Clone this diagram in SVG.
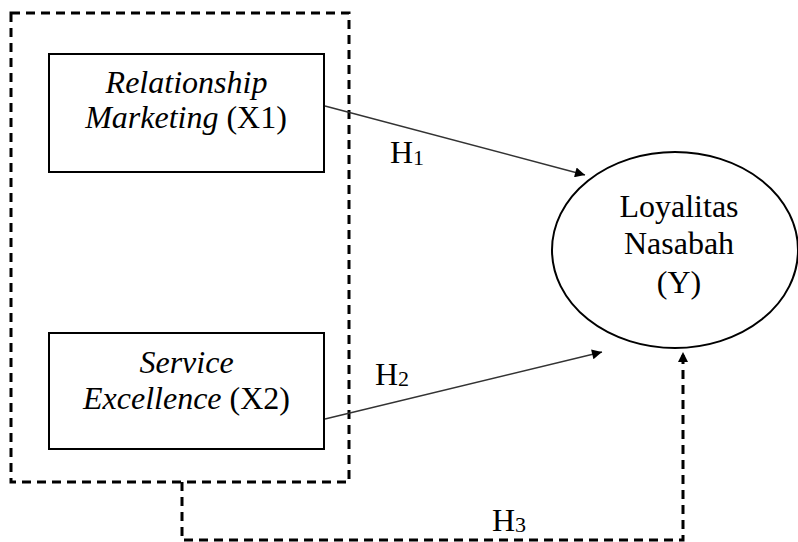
<svg xmlns="http://www.w3.org/2000/svg" width="798" height="542" viewBox="0 0 798 542">
<style>
.t{font-family:"Liberation Serif","Times New Roman",serif;font-size:32px;fill:#000;text-anchor:middle}
.i{font-style:italic}
.h{text-anchor:start}
.sub{font-size:22px}
.box{fill:#fff;stroke:#000;stroke-width:2}
.dash{fill:none;stroke:#000;stroke-width:3;stroke-dasharray:9 6}
.ln{fill:none;stroke:#333;stroke-width:1.5}
</style>
<defs>
<marker id="ah" viewBox="0 0 10 10" refX="10" refY="5" markerWidth="14" markerHeight="10" markerUnits="userSpaceOnUse" orient="auto">
<path d="M0,0 L10,5 L0,10 z" fill="#000"/>
</marker>
</defs>
<rect id="group" class="dash" x="11" y="13" width="338" height="469"/>
<g id="x1">
<rect class="box" x="49" y="54" width="275" height="118"/>
<text class="t" x="186.5" y="93"><tspan class="i">Relationship</tspan></text>
<text class="t" x="186" y="128"><tspan class="i">Marketing</tspan> (X1)</text>
</g>
<g id="x2">
<rect class="box" x="49" y="333" width="275" height="116"/>
<text class="t" x="186.5" y="373"><tspan class="i">Service</tspan></text>
<text class="t" x="186.5" y="409"><tspan class="i">Excellence</tspan> (X2)</text>
</g>
<g id="y">
<ellipse class="box" cx="675" cy="250" rx="123" ry="98"/>
<text class="t" x="679" y="217">Loyalitas</text>
<text class="t" x="679" y="254">Nasabah</text>
<text class="t" x="679" y="293">(Y)</text>
</g>
<g id="connectors">
<line class="ln" x1="325" y1="106" x2="585" y2="175" marker-end="url(#ah)"/>
<line class="ln" x1="325" y1="419" x2="602" y2="352" marker-end="url(#ah)"/>
<polyline class="dash" points="182,482 182,540 683,540 683,352" marker-end="url(#ah)"/>
<text class="t h" x="390" y="163">H<tspan class="sub" dy="2">1</tspan></text>
<text class="t h" x="375" y="385">H<tspan class="sub" dy="1">2</tspan></text>
<text class="t h" x="492" y="531">H<tspan class="sub" dy="1">3</tspan></text>
</g>
</svg>
